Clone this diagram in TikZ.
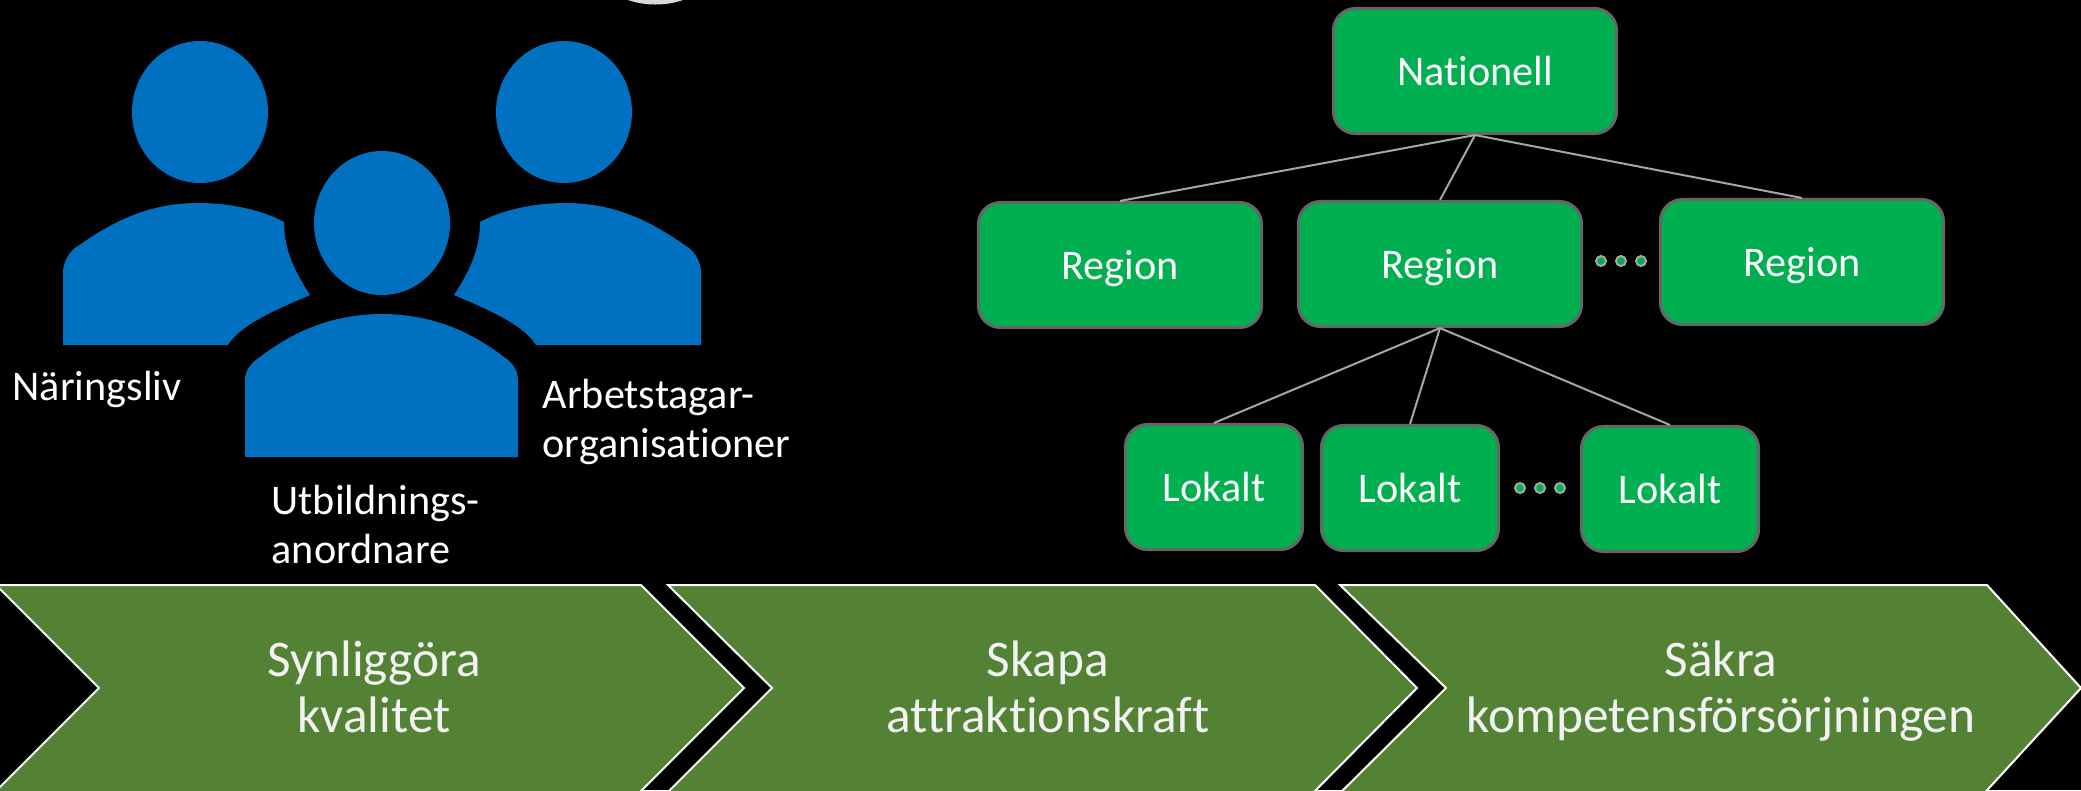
\documentclass[tikz,border=0pt]{standalone}
\usepackage{fontspec}
\setmainfont{Carlito}[Ligatures=CommonOff]
\tikzset{
  levelbox/.style={draw=black!60, line width=.3mm, fill=levelgreen, rounded corners=.22cm, text=white,
    minimum width=2.83cm, minimum height=1.25cm, inner sep=0pt, text height=8pt, text depth=0pt,
    font=\fontsize{12}{14}\selectfont},
  localbox/.style={levelbox, minimum width=1.77cm},
  levelline/.style={draw=black!35, line width=.2mm},
  person/.style={fill=personblue},
  persontext/.style={text=white, anchor=west, align=left, inner sep=0pt, font=\fontsize{12}{14}\selectfont},
  arrowshape/.style={draw=white, line width=.2mm, fill=arrowgreen},
  arrowtext/.style={text=white!95!black, align=center, inner sep=0pt, font=\fontsize{14.6}{16}\selectfont},
  moredot/.style={draw=black!35, line width=.2mm, fill=levelgreen}
}
\definecolor{levelgreen}{HTML}{00B050}
\definecolor{personblue}{HTML}{0070C0}
\definecolor{arrowgreen}{HTML}{548235}
\begin{document}
\begin{tikzpicture}[x=.01cm, y=-.01cm]
\clip (0,0) rectangle (2081,790);
\fill[black] (0,0) rectangle (2081,790);

% arc at the top edge
\fill[black!15] (628,0) .. controls (645,6) and (666,6) .. (683,0) -- cycle;

% people
\fill[person] (200,112) ellipse (68 and 71);
\fill[person] (564,112) ellipse (68 and 71);
\fill[person] (382,223) ellipse (68 and 72);
\fill[person] (63,345) -- (63,272) .. controls (63,262) and (70,250) .. (78,246) .. controls (115,220) and (150,203) .. (199,203)
  .. controls (230,203) and (262,210) .. (284,222) .. controls (284,250) and (295,272) .. (310,295)
  .. controls (275,310) and (240,325) .. (228,345) -- cycle;
\fill[person] (701,345) -- (701,272) .. controls (701,262) and (694,250) .. (686,246) .. controls (649,220) and (614,203) .. (565,203)
  .. controls (534,203) and (502,210) .. (480,222) .. controls (480,250) and (469,272) .. (454,295)
  .. controls (489,310) and (524,325) .. (536,345) -- cycle;
\fill[person] (245,457) -- (245,380) .. controls (245,370) and (252,362) .. (260,357) .. controls (295,330) and (335,314) .. (382,314)
  .. controls (429,314) and (469,330) .. (504,357) .. controls (512,362) and (518,370) .. (518,380) -- (518,457) -- cycle;

\node[persontext] (naringsliv) at (12,391) {\strut Näringsliv};
\node[persontext] (arbetstagar) at (542,423) {\strut Arbetstagar-\\\strut organisationer};
\node[persontext] (utbildning) at (271,529) {\strut Utbildnings-\\\strut anordnare};

% levels
\node[levelbox] (nationell) at (1475,71) {Nationell};
\node[levelbox] (regionA) at (1120,265) {Region};
\node[levelbox] (regionB) at (1440,264) {Region};
\node[levelbox] (regionC) at (1802,262) {Region};
\node[localbox] (lokaltA) at (1214,487) {Lokalt};
\node[localbox] (lokaltB) at (1410,488) {Lokalt};
\node[localbox] (lokaltC) at (1670,489) {Lokalt};

\foreach \r in {regionA,regionB,regionC}
  \draw[levelline] (nationell.south) -- (\r.north);
\foreach \l in {lokaltA,lokaltB,lokaltC}
  \draw[levelline] (regionB.south) -- (\l.north);

\foreach \x in {1601,1621,1641}
  \draw[moredot] (\x,261) circle (5);
\foreach \x in {1520,1540,1560}
  \draw[moredot] (\x,488) circle (5);

% arrows
\draw[arrowshape] (-4,585) -- (641,585) -- (744,688) -- (632,800) -- (-13,800) -- (99,688) -- cycle;
\draw[arrowshape] (668,585) -- (1315,585) -- (1417,688) -- (1306,800) -- (660,800) -- (772,688) -- cycle;
\draw[arrowshape] (1340,585) -- (1987,585) -- (2081,688) -- (1978,800) -- (1333,800) -- (1446,688) -- cycle;

\node[arrowtext] (synliggora) at (374,693) {\strut Synliggöra\\\strut kvalitet};
\node[arrowtext] (skapa) at (1048,693) {\strut Skapa\\\strut attraktionskraft};
\node[arrowtext] (sakra) at (1721,693) {\strut Säkra\\\strut kompetensförsörjningen};
\end{tikzpicture}
\end{document}
